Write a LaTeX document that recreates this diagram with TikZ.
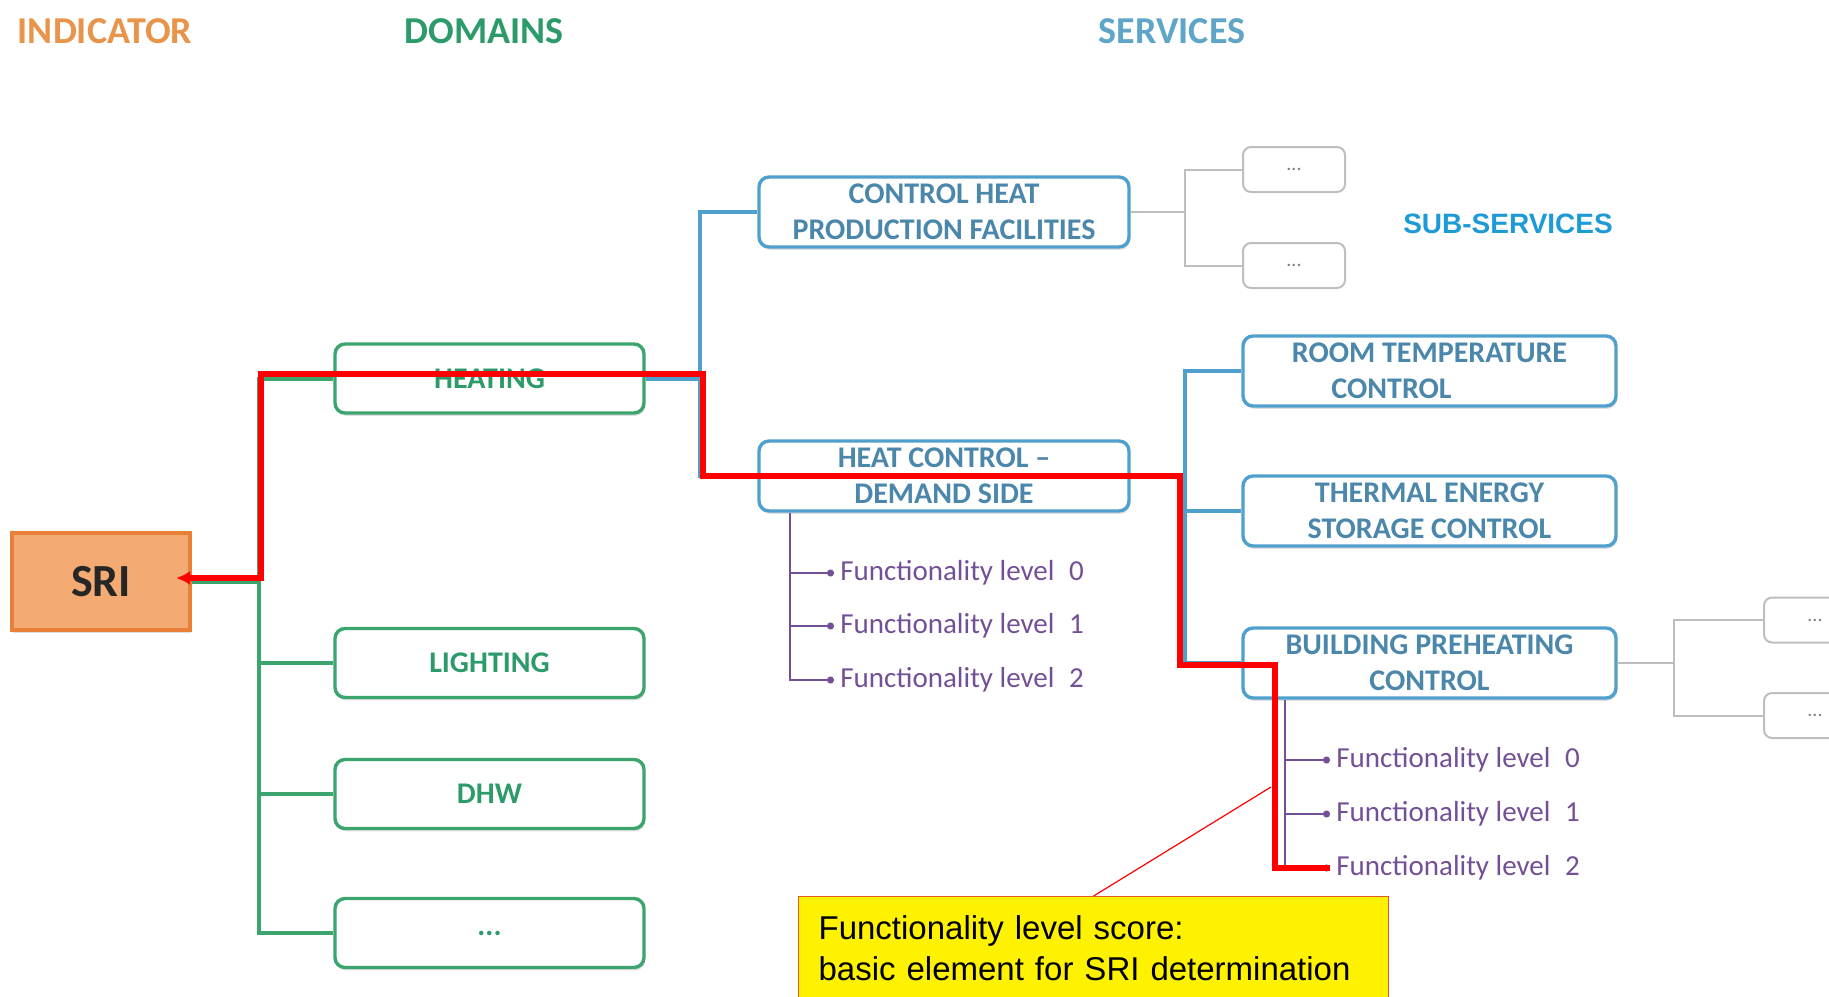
\documentclass[tikz,border=0pt]{standalone}
\usepackage{fontspec}
\setmainfont{Carlito}
\newfontfamily\arialfont{Liberation Sans}
\usetikzlibrary{arrows.meta,shadows}
\definecolor{indorange}{RGB}{232,148,74}
\definecolor{srifill}{RGB}{244,170,115}
\definecolor{sriedge}{RGB}{232,128,55}
\definecolor{domgreen}{RGB}{60,165,110}
\definecolor{domtext}{RGB}{45,155,105}
\definecolor{svcblue}{RGB}{80,160,205}
\definecolor{svctext}{RGB}{75,135,170}
\definecolor{svchead}{RGB}{95,165,200}
\definecolor{subblue}{RGB}{30,155,215}
\definecolor{boxgray}{RGB}{190,190,190}
\definecolor{lvlpurple}{RGB}{115,80,150}
\definecolor{notered}{RGB}{230,90,40}

\begin{document}
\begin{tikzpicture}[x=0.5pt,y=-0.5pt,
  head/.style={font=\fontsize{19}{21}\selectfont\bfseries},
  dombox/.style={draw=domgreen, line width=1.7pt, rounded corners=5pt, fill=white,
    minimum width=154.5pt, minimum height=34.5pt, text=domtext, align=center,
    font=\fontsize{15}{18}\selectfont\bfseries,
    drop shadow={shadow xshift=0.6pt, shadow yshift=-1.4pt, opacity=0.25}},
  svcbox/.style={dombox, draw=svcblue, text=svctext, minimum width=185pt, minimum height=35pt},
  subbox/.style={svcbox, minimum width=186.5pt},
  dotbox/.style={draw=boxgray, line width=1pt, rounded corners=4pt, fill=white,
    minimum width=51pt, minimum height=22.5pt, text=gray, font=\fontsize{10}{10}\selectfont},
  lvltext/.style={anchor=west, inner sep=3pt, text=lvlpurple, font=\fontsize{14.5}{16}\selectfont},
  domline/.style={draw=domgreen, line width=2pt},
  svcline/.style={draw=svcblue, line width=2pt},
  grayline/.style={draw=boxgray, line width=1pt},
  lvlline/.style={draw=lvlpurple, line width=0.8pt, -{Circle[length=3.5pt]}},
  redpath/.style={draw=red, line width=3pt, -{Latex[length=7pt,width=7pt]}}]
\clip (0,0) rectangle (1829,996);

\node[head, text=indorange] (hind) at (105,31) {INDICATOR};
\node[head, text=domtext] (hdom) at (484,31) {DOMAINS};
\node[head, text=svchead] (hsvc) at (1172,31) {SERVICES};
\node[font=\arialfont\fontsize{14}{16}\selectfont\bfseries, text=subblue] (hsub) at (1508,224) {SUB-SERVICES};

\node[draw=sriedge, fill=srifill, line width=1.8pt, minimum width=89pt, minimum height=48.5pt,
  font=\fontsize{23}{26}\selectfont\bfseries, text=black!85,
  drop shadow={shadow xshift=0.6pt, shadow yshift=-1.4pt, opacity=0.25}] (sri) at (101,581.5) {SRI};

\node[dombox] (heat) at (489.5,378.5) {HEATING};
\node[dombox] (light) at (489.5,663) {LIGHTING};
\node[dombox] (dhw) at (489.5,794) {DHW};
\node[dombox] (ddots) at (489.5,933) {...};

\node[svcbox] (chpf) at (944,212) {CONTROL HEAT\\PRODUCTION FACILITIES};
\node[svcbox] (hcds) at (944,476) {HEAT CONTROL --\\DEMAND SIDE};

\node[subbox] (rtc) at (1429.5,371) {ROOM TEMPERATURE\\CONTROL\hbox to 38pt{}};
\node[subbox] (tesc) at (1429.5,511) {THERMAL ENERGY\\STORAGE CONTROL};
\node[subbox] (bpc) at (1429.5,663) {BUILDING PREHEATING\\CONTROL};

\node[dotbox] (s1) at (1294,169.5) {...};
\node[dotbox] (s2) at (1294,265.5) {...};
\node[dotbox] (s3) at (1815,620) {...};
\node[dotbox] (s4) at (1815,715.5) {...};

\node[lvltext] (hf0) at (834,573) {Functionality level\enspace 0};
\node[lvltext] (hf1) at (834,626) {Functionality level\enspace 1};
\node[lvltext] (hf2) at (834,680) {Functionality level\enspace 2};
\node[lvltext] (bf0) at (1330,760) {Functionality level\enspace 0};
\node[lvltext] (bf1) at (1330,814) {Functionality level\enspace 1};
\node[lvltext] (bf2) at (1330,868) {Functionality level\enspace 2};

\coordinate (gj) at (259,581.5);
\coordinate (bj1) at (700,378.5);
\coordinate (bj2) at (1185,476);
\coordinate (gj1) at (1185,212);
\coordinate (gj2) at (1674,663);
\coordinate (hl) at (790,513);
\coordinate (bl) at (1285,700);

\foreach \d in {heat,light,dhw,ddots}
  \draw[domline] (sri.east) -- (gj) |- (\d.west);
\foreach \s in {chpf,hcds}
  \draw[svcline] (heat.east) -- (bj1) |- (\s.west);
\foreach \s in {rtc,tesc,bpc}
  \draw[svcline] (hcds.east) -- (bj2) |- (\s.west);
\foreach \s in {s1,s2}
  \draw[grayline] (chpf.east) -- (gj1) |- (\s.west);
\foreach \s in {s3,s4}
  \draw[grayline] (bpc.east) -- (gj2) |- (\s.west);
\foreach \i in {0,1,2} {
  \draw[lvlline] (hl) |- (hf\i.west);
  \draw[lvlline] (bl) |- (bf\i.west);
}

\node[draw=notered, line width=0.6pt, fill=yellow, anchor=north west, minimum width=295pt,
  minimum height=52pt, inner xsep=10pt, text width=275pt, align=left,
  font=\arialfont\fontsize{16.5}{20.5}\selectfont] (note) at (798,896)
  {Functionality level score:\\basic element for SRI determination};
\coordinate (callpt) at (1271,787);
\draw[draw=red, line width=0.6pt] (note.north) -- (callpt);

\coordinate (sritip) at (176,578);
\draw[redpath] (bf2.west) -- (1275,868) -- (1275,665) -- (1180,665) -- (1180,476)
  -- (703,476) -- (703,374) -- (261,374) -- (261,578) -- (sritip);
\end{tikzpicture}
\end{document}
